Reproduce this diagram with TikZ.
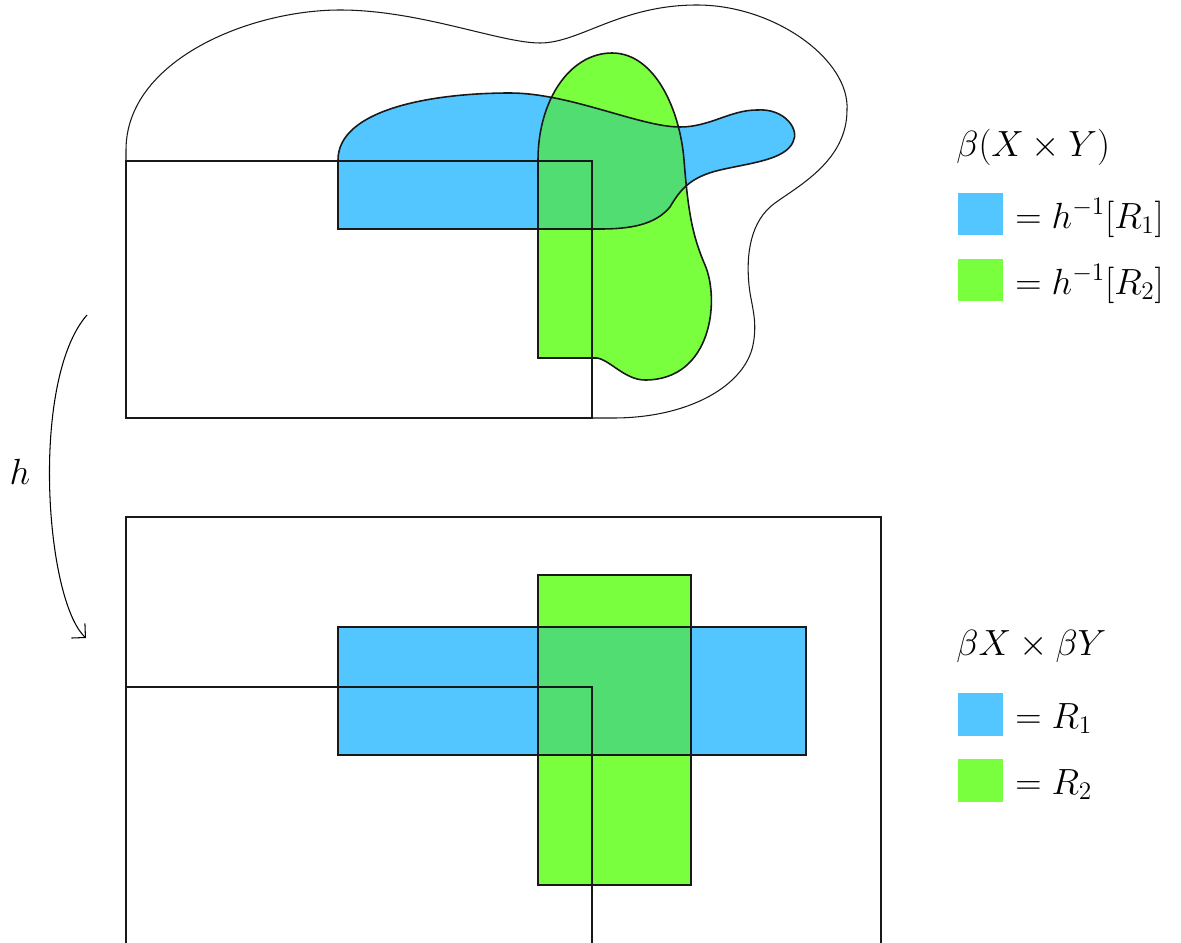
\documentclass[tikz,border=0pt]{standalone}
\usepackage{amsmath,amssymb}
\usetikzlibrary{arrows.meta,positioning}
\definecolor{myBlue}{RGB}{83,197,255}
\definecolor{myGreen}{RGB}{122,255,63}
\definecolor{myMix}{RGB}{82,221,115}
\tikzset{
	sline/.style={draw=black!90, line width=0.9pt},
	sblob/.style={draw=black!90, line width=0.6pt},
	skey/.style={minimum width=0.9cm, minimum height=0.86cm, inner sep=0pt},
	slab/.style={anchor=base west, inner sep=0pt, font=\fontsize{20}{24}\selectfont},
	sarr/.style={-{Straight Barb[length=2mm,width=4mm]}, line width=0.6pt}
}
% preimages in beta(X x Y)
\def\blobOuter{(126,418) -- (126,150)
	.. controls (126,60) and (250,10) .. (340,10)
	.. controls (420,10) and (500,43) .. (540,43)
	.. controls (580,43) and (620,5) .. (697,5)
	.. controls (775,5) and (850,60) .. (847,110)
	.. controls (847,160) and (800,185) .. (775,203)
	.. controls (750,221) and (746,255) .. (749,285)
	.. controls (751,305) and (758,320) .. (753,345)
	.. controls (745,385) and (690,418) .. (613,418) -- cycle}
\def\blobBlue{(338,229) -- (338,160)
	.. controls (338,110) and (430,93) .. (510,93)
	.. controls (570,93) and (640,127) .. (680,127)
	.. controls (710,127) and (730,110) .. (757,110)
	.. controls (785,108) and (800,130) .. (793,142)
	.. controls (785,160) and (750,163) .. (720,170)
	.. controls (690,177) and (680,190) .. (670,207)
	.. controls (655,225) and (630,229) .. (600,229) -- cycle}
\def\blobGreen{(538,358) -- (538,160)
	.. controls (538,100) and (570,53) .. (612,53)
	.. controls (655,53) and (680,110) .. (684,160)
	.. controls (688,210) and (692,235) .. (705,265)
	.. controls (720,300) and (712,380) .. (645,380)
	.. controls (625,380) and (610,360) .. (597,358) -- cycle}

\begin{document}
\begin{tikzpicture}[x=0.02cm, y=-0.02cm]
	\clip (0,0) rectangle (1181,943);
	% top: beta(X x Y)
	\fill[myBlue] \blobBlue;
	\fill[myGreen] \blobGreen;
	\begin{scope}
		\clip \blobBlue;
		\fill[myMix] \blobGreen;
	\end{scope}
	\draw[sblob] \blobOuter;
	\draw[sline] (126,161) rectangle (592,418);
	\draw[sline] \blobBlue;
	\draw[sline] \blobGreen;
	% bottom: beta X x beta Y
	\draw[sline] (126,960) -- (126,517) -- (881,517) -- (881,960);
	\fill[myBlue] (338,627) rectangle (806,755);
	\fill[myGreen] (538,575) rectangle (691,885);
	\fill[myMix] (538,627) rectangle (691,755);
	\draw[sline] (338,627) rectangle (806,755);
	\draw[sline] (538,575) rectangle (691,885);
	\draw[sline] (126,687) -- (592,687) -- (592,960);
	% the map h
	\coordinate (hs) at (87,315);
	\coordinate (he) at (86,638);
	\draw[sarr] (hs) .. controls (30,380) and (45,600) .. (he);
	\node[slab, anchor=center] (H) at (20,472) {$h$};
	% legend
	\node[slab] (T1) at (956,156) {$\beta(X\times Y)$};
	\node[skey, fill=myBlue] (K1) at (980.5,214) {};
	\node[slab] (L1) at (1015,228) {$=h^{-1}[R_1]$};
	\node[skey, fill=myGreen] (K2) at (980.5,280) {};
	\node[slab] (L2) at (1015,294) {$=h^{-1}[R_2]$};
	\node[slab] (T2) at (956,655) {$\beta X\times\beta Y$};
	\node[skey, fill=myBlue] (K3) at (980.5,714) {};
	\node[slab] (L3) at (1015,728) {$=R_1$};
	\node[skey, fill=myGreen] (K4) at (980.5,780) {};
	\node[slab] (L4) at (1015,794) {$=R_2$};
\end{tikzpicture}
\end{document}
